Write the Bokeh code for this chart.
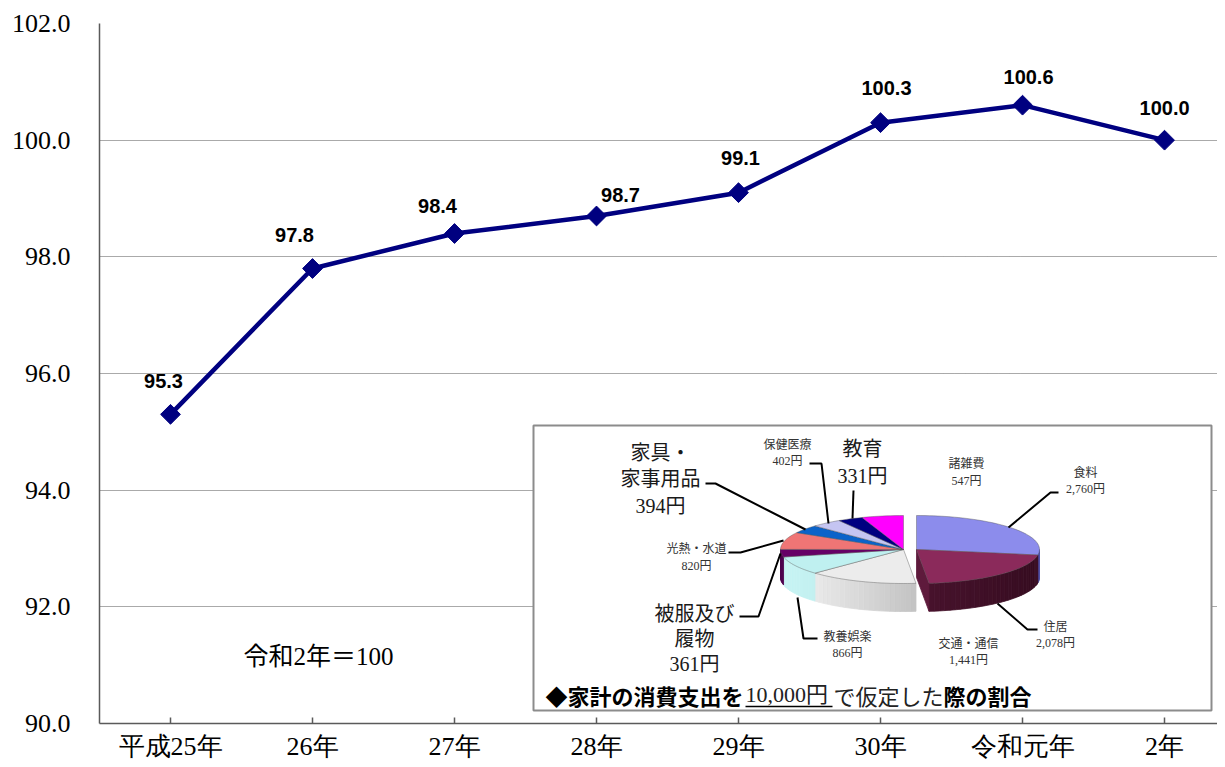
import math
import numpy as np
from bokeh.plotting import figure
from bokeh.models import Range1d, FixedTicker, ColumnDataSource, PrintfTickFormatter
from bokeh.core.properties import value
from bokeh.embed import file_html
from bokeh.resources import INLINE

# ---------------- data ----------------
years = ["平成25年", "26年", "27年", "28年", "29年", "30年", "令和元年", "2年"]
index_values = [95.3, 97.8, 98.4, 98.7, 99.1, 100.3, 100.6, 100.0]
y_ticks = [90, 92, 94, 96, 98, 100, 102]
base_note = "令和2年＝100"

pie_items = ["食料", "住居", "交通・通信", "教養娯楽", "被服及び\n履物",
             "光熱・水道", "家具・\n家事用品", "保健医療", "教育", "諸雑費"]
pie_yen = [2760, 2078, 1441, 866, 361, 820, 394, 402, 331, 547]
caption_parts = ["◆家計の消費支出を", "10,000円", "で仮定した", "際の割合"]

# ---------------- styles / layout ----------------
SERIF = "Liberation Serif, Noto Sans CJK JP"
AXIS_SERIF = "Liberation Serif"
SANS_JP = "Noto Sans CJK JP"
NAVY = "#000080"

label_dx = [-7, -18, -17, 24, 2, 6, 6, 0]
label_dy = [-33, -34, -28, -21, -35, -35, -28, -32]

top_colors = ["#8c8cec", "#8b2a5b", "#ececec", "#bff0f0", "#660066",
              "#ef7575", "#0b63c9", "#c5c5f2", "#000080", "#ff00ff"]
wall_colors = [("#6d6dd0", "#5252a8"), ("#5e1a3c", "#380d22"), ("#f6f6f6", "#9a9a9a"),
               ("#c8f4f4", "#9fd8d8"), ("#4d004d", "#4d004d"), ("#c05050", "#c05050"),
               ("#084c9c", "#084c9c"), ("#9a9ac8", "#9a9ac8"), ("#000060", "#000060"),
               ("#c000c0", "#c000c0")]
explode_dx = [13, 13, 0, 0, 0, 0, 0, 0, 0, 0]

# (center x, first line y, font px, line gap) in image pixels
label_layout = [(1085, 472, 12, 16.5), (1055, 626, 12, 16.5), (968, 643, 12, 16),
                (847, 636, 12, 16), (694, 613, 20, 25), (696, 548, 12, 17),
                (660, 452, 20, 26.5), (787, 444, 12, 16), (862, 448, 20, 27),
                (966, 463, 12, 17)]
leaders = [[(1008, 527), (1050, 492), (1058, 492)],
           [(997, 603), (1027, 629), (1037, 629)],
           None,
           [(797, 597), (803, 638), (817, 638)],
           [(780, 553), (758, 616), (739, 616)],
           [(783, 540), (740, 552), (728, 552)],
           [(805, 529), (715, 483), (705, 483)],
           [(828, 523), (821, 463), (809, 463)],
           [(852, 518), (853, 490)],
           None]
caption_x = [545, 745, 833, 943]
caption_font = [SANS_JP, SERIF, SANS_JP, SANS_JP]
caption_style = ["bold", "normal", "normal", "bold"]

# ---------------- figure ----------------
p = figure(frame_width=1118, frame_height=700,
           x_range=Range1d(-0.5, 7.373), y_range=Range1d(90, 102),
           output_backend="svg", toolbar_location=None,
           min_border_left=99, min_border_right=0, min_border_top=23, min_border_bottom=5,
           background_fill_color="white", border_fill_color="white")
p.outline_line_color = None
p.extra_x_ranges = {"px": Range1d(99, 1217)}
p.extra_y_ranges = {"px": Range1d(723, 23)}

xa = p.xaxis[0]
xa.ticker = FixedTicker(ticks=list(range(len(years))))
xa.major_label_overrides = {i: y for i, y in enumerate(years)}
xa.major_label_text_font = AXIS_SERIF
xa.major_label_text_font_size = "26px"
xa.major_label_text_color = "black"
xa.major_label_standoff = 8
xa.major_tick_in = 6
xa.major_tick_out = 0
xa.minor_tick_line_color = None
xa.axis_line_color = "#5a5a5a"
xa.axis_line_width = 1.5
xa.major_tick_line_color = "#5a5a5a"
xa.major_tick_line_width = 1.5

ya = p.yaxis[0]
ya.ticker = FixedTicker(ticks=y_ticks)
ya.formatter = PrintfTickFormatter(format="%.1f")
ya.major_label_text_font = AXIS_SERIF
ya.major_label_text_font_size = "26px"
ya.major_label_text_color = "black"
ya.major_label_standoff = 29
ya.major_tick_in = 0
ya.major_tick_out = 0
ya.minor_tick_line_color = None
ya.axis_line_color = "#5a5a5a"
ya.axis_line_width = 1.5

p.xgrid.visible = False
p.ygrid.ticker = FixedTicker(ticks=y_ticks)
p.ygrid.grid_line_color = "#555555"
p.ygrid.grid_line_dash = "1 1"
p.ygrid.grid_line_width = 1

# ---------------- line series ----------------
src = ColumnDataSource(dict(x=list(range(len(years))), y=index_values,
                            lab=[f"{v:.1f}" for v in index_values],
                            dx=label_dx, dy=label_dy))
p.line("x", "y", source=src, line_color=NAVY, line_width=4.5)
p.scatter("x", "y", source=src, marker="square", size=14, angle=math.pi / 4,
          fill_color=NAVY, line_color=NAVY)
p.text("x", "y", text="lab", source=src, x_offset="dx", y_offset="dy",
       text_font=value("Liberation Sans"), text_font_style="bold",
       text_font_size=value("20px"), text_align="center", text_baseline="middle",
       text_color="black")

p.text(x=[318], y=[656], text=[base_note], x_range_name="px", y_range_name="px",
       text_font=value(SERIF), text_font_size=value("25px"), text_align="center",
       text_baseline="middle", text_color="black")

# ---------------- inset box ----------------
p.quad(left=[533], right=[1211], top=[425], bottom=[710], fill_color="white",
       line_color="#8c8c8c", line_width=2, x_range_name="px", y_range_name="px")

# ---------------- 3D pie ----------------
def hex2rgb(h):
    h = h.lstrip("#")
    return [int(h[i:i + 2], 16) for i in (0, 2, 4)]

def interp(c0, c1, f):
    f = min(1.0, max(0.0, f))
    a, b = hex2rgb(c0), hex2rgb(c1)
    return "#%02x%02x%02x" % tuple(int(round(a[k] + (b[k] - a[k]) * f)) for k in range(3))

total = float(sum(pie_yen))
cx, cy, ra, rb, depth = 903.0, 549.0, 123.0, 34.0, 28.0
ang = [math.pi / 2]
for v in pie_yen:
    ang.append(ang[-1] - 2 * math.pi * v / total)
n = len(pie_yen)

def pt(t, off):
    return cx + off + ra * math.cos(t), cy - rb * math.sin(t)

wxs, wys, wcs = [], [], []
for i in range(n):
    t0, t1 = ang[i], ang[i + 1]
    off = explode_dx[i]
    lo, hi = max(t1, -math.pi), min(t0, 0.0)
    if lo < hi:
        k = max(2, int((hi - lo) / math.radians(2.5)) + 1)
        ts = np.linspace(hi, lo, k + 1)
        for j in range(k):
            x0, y0 = pt(ts[j], off)
            x1, y1 = pt(ts[j + 1], off)
            wxs.append([x0, x1, x1, x0])
            wys.append([y0, y1, y1 + depth, y0 + depth])
            fr = ((x0 + x1) / 2 - (cx - ra)) / (2 * ra)
            wcs.append(interp(wall_colors[i][0], wall_colors[i][1], fr))
    nxt = explode_dx[(i + 1) % n]
    if off != nxt and math.cos(t1) > 1e-6:
        rx, ry = pt(t1, off)
        ax_, ay_ = cx + off, cy
        wxs.append([ax_, rx, rx, ax_])
        wys.append([ay_, ry, ry + depth, ay_ + depth])
        wcs.append(wall_colors[i][0])

p.patches(wxs, wys, fill_color=wcs, line_color=wcs, line_width=0.8,
          x_range_name="px", y_range_name="px")

txs, tys = [], []
for i in range(n):
    t0, t1 = ang[i], ang[i + 1]
    off = explode_dx[i]
    k = max(3, int((t0 - t1) / math.radians(2)) + 1)
    ts = np.linspace(t0, t1, k + 1)
    xs = [cx + off] + [pt(t, off)[0] for t in ts]
    ys = [cy] + [pt(t, off)[1] for t in ts]
    txs.append(xs)
    tys.append(ys)
p.patches(txs, tys, fill_color=top_colors, line_color="#555555", line_width=0.6,
          line_alpha=0.7, x_range_name="px", y_range_name="px")

# leader lines
lxs = [[q[0] for q in L] for L in leaders if L]
lys = [[q[1] for q in L] for L in leaders if L]
p.multi_line(lxs, lys, line_color="black", line_width=2,
             x_range_name="px", y_range_name="px")

# pie labels
groups = {}
for i in range(n):
    xc, y0, fs, gap = label_layout[i]
    lines = pie_items[i].split("\n") + [f"{pie_yen[i]:,}円"]
    g = groups.setdefault(fs, dict(x=[], y=[], t=[]))
    for j, ln in enumerate(lines):
        g["x"].append(xc)
        g["y"].append(y0 + j * gap)
        g["t"].append(ln)
for fs, g in groups.items():
    p.text(x=g["x"], y=g["y"], text=g["t"], x_range_name="px", y_range_name="px",
           text_font=value(SERIF), text_font_size=value(f"{fs}px"),
           text_align="center", text_baseline="middle",
           text_color="#1a1a1a" if fs > 14 else "#333333")

# caption
for i, part in enumerate(caption_parts):
    p.text(x=[caption_x[i]], y=[694], text=[part], x_range_name="px", y_range_name="px",
           text_font=value(caption_font[i]), text_font_style=caption_style[i],
           text_font_size=value("22px"), text_align="left", text_baseline="middle",
           text_color="black" if caption_style[i] == "bold" else "#222222")
p.segment(x0=[caption_x[1]], y0=[706], x1=[caption_x[2] - 1], y1=[706],
          line_color="black", line_width=1.5, x_range_name="px", y_range_name="px")

open("out.html", "w").write(file_html(p, INLINE))
